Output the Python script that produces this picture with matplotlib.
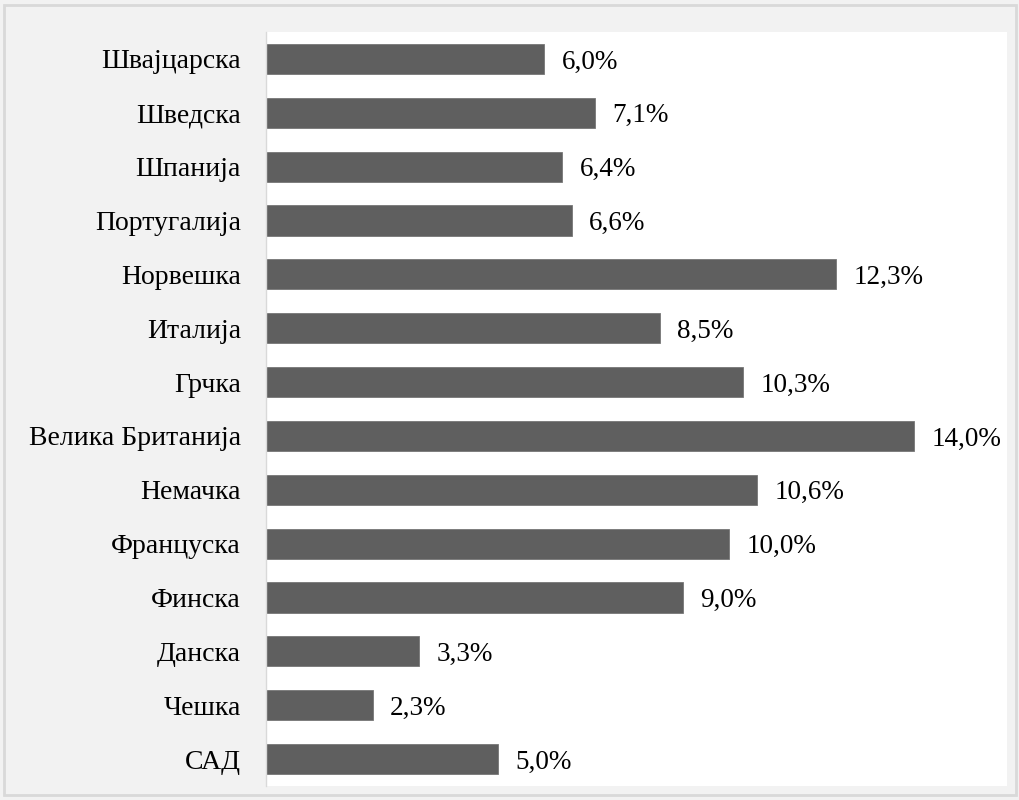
import matplotlib
matplotlib.use('Agg')
import matplotlib.pyplot as plt
from matplotlib.patches import Rectangle

plt.rcParams['font.family'] = ['Liberation Serif', 'DejaVu Serif']

# подаци, одозго надоле
zemlje = ['Швајцарска', 'Шведска', 'Шпанија', 'Португалија', 'Норвешка',
          'Италија', 'Грчка', 'Велика Британија', 'Немачка', 'Француска',
          'Финска', 'Данска', 'Чешка', 'САД']
udeo = [6.0, 7.1, 6.4, 6.6, 12.3, 8.5, 10.3, 14.0, 10.6, 10.0, 9.0, 3.3, 2.3, 5.0]

fig = plt.figure(figsize=(10.2, 8), dpi=100, facecolor='#f2f2f2')
fig.patches.append(Rectangle((0.004, 0.006), 0.992, 0.988, transform=fig.transFigure,
                             fill=False, edgecolor='#d9d9d9', lw=2.0))
ax = fig.add_axes([0.2608, 0.0175, 0.7265, 0.9425])
ax.set_facecolor('white')

ypos = list(range(len(zemlje)))[::-1]
ax.barh(ypos, udeo, height=0.56, color='#5f5f5f', edgecolor='#777777', lw=0.6)
for y, v in zip(ypos, udeo):
    ax.text(v + 0.38, y, f"{v:.1f}%".replace('.', ','), ha='left',
            va='center_baseline', fontsize=19.5)

ax.set_xlim(0, 16)
ax.set_ylim(-0.5, len(zemlje) - 0.5)
ax.set_yticks(ypos)
ax.set_yticklabels(zemlje, fontsize=20)
ax.set_xticks([])
ax.tick_params(axis='y', length=0, pad=18)
for s in ['top', 'right', 'bottom']:
    ax.spines[s].set_visible(False)
ax.spines['left'].set_color('#d9d9d9')
ax.spines['left'].set_linewidth(1.0)

fig.savefig('out.png', dpi=100, facecolor=fig.get_facecolor())
